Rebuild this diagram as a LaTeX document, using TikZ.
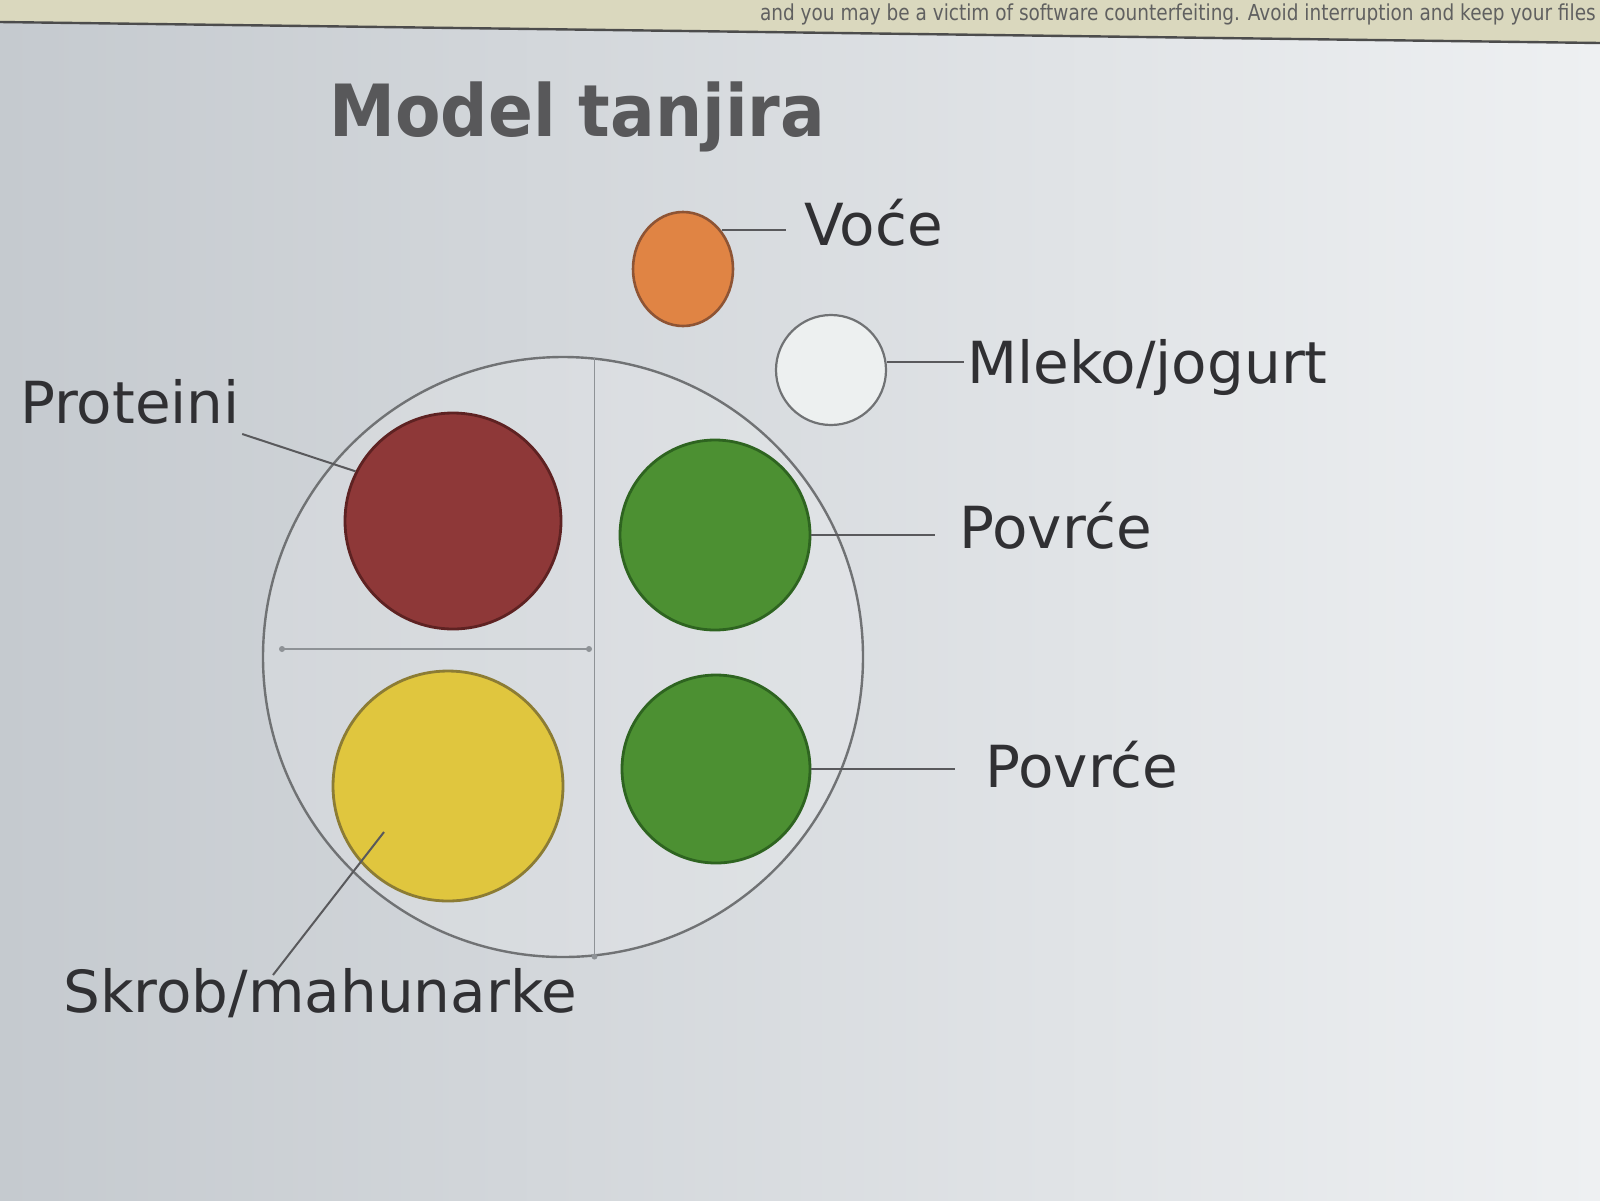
\documentclass[tikz,border=0pt]{standalone}
\usepackage{fontspec}
\setmainfont{DejaVu Sans}
\usetikzlibrary{shapes.geometric,calc}
\definecolor{bgL}{HTML}{C5CACF}
\definecolor{bgR}{HTML}{EEF0F2}
\definecolor{banner}{HTML}{DAD8BE}
\definecolor{txt}{HTML}{303033}
\definecolor{ttl}{HTML}{58585A}
\definecolor{plateline}{HTML}{707274}
\definecolor{guide}{HTML}{8E9296}
\definecolor{redF}{HTML}{8E3838}
\definecolor{redD}{HTML}{5E2222}
\definecolor{greenF}{HTML}{4C9032}
\definecolor{greenD}{HTML}{2E6420}
\definecolor{yelF}{HTML}{E0C63E}
\definecolor{yelD}{HTML}{8C7C34}
\definecolor{orF}{HTML}{E08444}
\definecolor{orD}{HTML}{8E5434}
\definecolor{whF}{HTML}{EDF0F0}
\begin{document}
\begin{tikzpicture}[x=0.5pt,y=-0.5pt,
  lbl/.style={anchor=base west,inner sep=0pt,text=txt,font=\fontsize{29pt}{34pt}\selectfont},
  food/.style={circle,inner sep=0pt,line width=1.4pt},
  conn/.style={draw=txt!80,line width=1pt},
  guideline/.style={draw=guide,line width=0.8pt}]
\useasboundingbox (0,0) rectangle (1600,1200);
\shade[left color=bgL,right color=bgR] (0,0) rectangle (1600,1200);
% screen banner
\fill[banner] (0,0) -- (1600,0) -- (1600,43) -- (0,22) -- cycle;
\node[anchor=base east,inner sep=0pt,text=gray!75!black,xscale=0.84,font=\fontsize{11pt}{13pt}\selectfont] (warn) at (1596,20) {and you may be a victim of software counterfeiting. Avoid interruption and keep your files};
\draw[gray!60!black,line width=1.2pt] (0,22) -- (1600,43);
% title
\node[anchor=base west,inner sep=0pt,text=ttl,xscale=0.92,font=\fontsize{36pt}{42pt}\selectfont\bfseries] (title) at (329,136) {Model tanjira};
% plate
\node[circle,draw=plateline,fill=white,fill opacity=0.15,draw opacity=1,line width=1.2pt,minimum size=300pt,inner sep=0pt] (plate) at (563,657) {};
\coordinate (vT) at (plate.84);
\coordinate (vB) at (plate.276);
\coordinate (hL) at ($(plate.center)+(-281,-8)$);
\coordinate (hR) at ($(plate.center)+(26,-8)$);
\draw[guideline] (vT) -- (vB);
\draw[guideline] (hL) -- (hR);
\fill[guide] (hL) circle[radius=3] (hR) circle[radius=3] (vB) circle[radius=3];
% food circles
\node[food,fill=redF,draw=redD,minimum size=108pt] (red) at (453,521) {};
\node[food,fill=greenF,draw=greenD,minimum size=95pt] (green1) at (715,535) {};
\node[food,fill=yelF,draw=yelD,minimum size=115pt] (yellow) at (448,786) {};
\node[food,fill=greenF,draw=greenD,minimum size=94pt] (green2) at (716,769) {};
\node[ellipse,inner sep=0pt,fill=orF,draw=orD,line width=1.3pt,minimum width=50pt,minimum height=57pt] (orange) at (683,269) {};
\node[food,fill=whF,draw=plateline,line width=1.1pt,minimum size=55pt] (white) at (831,370) {};
% labels
\node[lbl] (voce) at (804,245) {Voće};
\node[lbl] (mleko) at (967,383) {Mleko/jogurt};
\node[lbl] (povrce1) at (959,548) {Povrće};
\node[lbl] (povrce2) at (985,787) {Povrće};
\node[lbl] (proteini) at (20,423) {Proteini};
\node[lbl] (skrob) at (63,1012) {Skrob/mahunarke};
% connectors
\draw[conn] (orange.45) -- ($(orange.45 -| voce.west)+(-18,0)$);
\draw[conn] (white.8) -- ($(white.8 -| mleko.west)+(-3,0)$);
\draw[conn] (green1.east) -- ($(green1.east -| povrce1.west)+(-24,0)$);
\draw[conn] (green2.east) -- ($(green2.east -| povrce2.west)+(-30,0)$);
\coordinate (pS) at ($(proteini.base east)+(2,11)$);
\draw[conn] (pS) -- (red.153);
\coordinate (sS) at ($(skrob.base west)+(210,-37)$);
\coordinate (sE) at ($(yellow.center)+(-64,46)$);
\draw[conn] (sS) -- (sE);
\end{tikzpicture}
\end{document}
